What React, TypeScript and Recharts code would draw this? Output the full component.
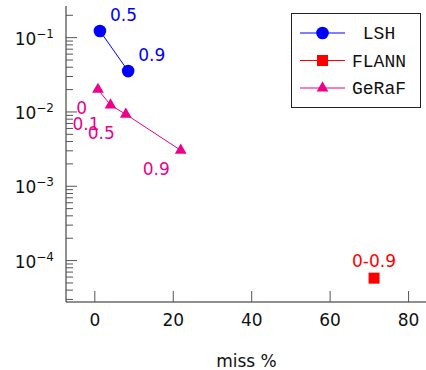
import React from "react";
import { ComposedChart, Scatter, XAxis, YAxis, Legend, Label } from "recharts";

// miss % vs. time
const lshMiss = [1.3, 8.5];
const lshTime = [0.123, 0.0355];
const lshLabels = ["0.5", "0.9"];

const flannMiss = [71.2];
const flannTime = [5.8e-5];
const flannLabels = ["0-0.9"];

const gerafMiss = [0.8, 4.0, 7.9, 21.9];
const gerafTime = [0.0201, 0.0124, 0.0093, 0.00305];
const gerafLabels = ["0", "0.1", "0.5", "0.9"];

const xTicks = [0, 20, 40, 60, 80];
const yMajor = [1e-4, 1e-3, 1e-2, 1e-1];
const yMajorExp = ["−4", "−3", "−2", "−1"];
const minorMult = [2, 3, 4, 5, 6, 7, 8, 9];

const X_DOMAIN: [number, number] = [-7.35, 84.7];
const Y_DOMAIN: [number, number] = [2.77e-5, 0.2667];

const yTicks = [
  ...yMajor,
  ...[1e-5, 1e-4, 1e-3, 1e-2, 1e-1].flatMap((d) => minorMult.map((m) => m * d)),
].filter((v) => v >= Y_DOMAIN[0] && v <= Y_DOMAIN[1]);

const zip = (xs: number[], ys: number[], ls: string[]) =>
  xs.map((x, i) => ({ miss: x, time: ys[i], label: ls[i] }));

const SANS = "'DejaVu Sans', sans-serif";
const MONO = "'Liberation Mono', monospace";
const TICK = "#555";
const FRAME = "#222";

type Kind = "circle" | "square" | "triangle";

const series = [
  { name: "LSH", color: "#0000ff", kind: "circle" as Kind, data: zip(lshMiss, lshTime, lshLabels), dx: 10, dy: -16, anchor: "start" },
  { name: "FLANN", color: "#ff0000", kind: "square" as Kind, data: zip(flannMiss, flannTime, flannLabels), dx: 0, dy: -17, anchor: "middle" },
  { name: "GeRaF", color: "#ec008c", kind: "triangle" as Kind, data: zip(gerafMiss, gerafTime, gerafLabels), dx: -11, dy: 19, anchor: "end" },
];

function marker(kind: Kind, cx: number, cy: number, color: string) {
  if (kind === "circle") return <circle cx={cx} cy={cy} r={6.3} fill={color} />;
  if (kind === "square") return <rect x={cx - 5.5} y={cy - 5.5} width={11} height={11} fill={color} />;
  const r = 6.8;
  const pts = `${cx},${cy - r} ${cx + r * 0.866},${cy + r / 2} ${cx - r * 0.866},${cy + r / 2}`;
  return <polygon points={pts} fill={color} />;
}

const isMajor = (v: number) => yMajor.findIndex((m) => Math.abs(Math.log10(m) - Math.log10(v)) < 1e-6);

const LeftTick = ({ x, y, payload }: any) => {
  const i = isMajor(payload.value);
  const len = i >= 0 ? 11 : 7;
  return (
    <g>
      <line x1={x} x2={x + len} y1={y} y2={y} stroke={TICK} />
      {i >= 0 && (
        <text x={x - 12} y={y + 7} textAnchor="end" fontFamily={SANS} fontSize={17} fill="#111">
          10<tspan dy={-7} fontSize={12}>{yMajorExp[i]}</tspan>
        </text>
      )}
    </g>
  );
};

const RightTick = ({ x, y, payload }: any) => {
  const len = isMajor(payload.value) >= 0 ? 11 : 7;
  return <line x1={x} x2={x - len} y1={y} y2={y} stroke={TICK} />;
};

const BottomTick = ({ x, y, payload }: any) => (
  <g>
    <line x1={x} x2={x} y1={y} y2={y - 11} stroke={TICK} />
    <text x={x} y={y + 24} textAnchor="middle" fontFamily={SANS} fontSize={17} fill="#111">
      {payload.value}
    </text>
  </g>
);

const TopTick = ({ x, y }: any) => <line x1={x} x2={x} y1={y} y2={y + 11} stroke={TICK} />;

const renderLegend = () => (
  <div style={{ width: 130, height: 95, border: `1px solid ${FRAME}`, background: "#fff", boxSizing: "border-box" }}>
    <svg width={128} height={93}>
      {series.map((s, i) => {
        const cy = 19 + i * 27.5;
        return (
          <g key={s.name}>
            <line x1={8} x2={53} y1={cy} y2={cy} stroke={s.color} />
            {marker(s.kind, 30.5, cy, s.color)}
            <text x={87} y={cy + 6} textAnchor="middle" fontFamily={MONO} fontSize={18} fill="#111">
              {s.name}
            </text>
          </g>
        );
      })}
    </svg>
  </div>
);

export default function App() {
  return (
    <div style={{ position: "absolute", left: 0, top: 0, width: 426, height: 370, overflow: "hidden", background: "#fff" }}>
      <ComposedChart width={440} height={370} margin={{ top: 6, right: 13, bottom: 0, left: 0 }}>
        <XAxis
          dataKey="miss"
          type="number"
          domain={X_DOMAIN}
          allowDataOverflow
          ticks={xTicks}
          interval={0}
          height={68}
          tickSize={0}
          tickMargin={0}
          tickLine={false}
          tick={BottomTick}
          axisLine={{ stroke: FRAME }}
        >
          <Label
            content={({ viewBox }: any) => (
              <text
                x={viewBox.x + viewBox.width / 2}
                y={viewBox.y + 65}
                textAnchor="middle"
                fontFamily={SANS}
                fontSize={17}
                fill="#111"
              >
                miss %
              </text>
            )}
          />
        </XAxis>
        <XAxis
          xAxisId="top"
          orientation="top"
          dataKey="miss"
          type="number"
          domain={X_DOMAIN}
          allowDataOverflow
          ticks={xTicks}
          interval={0}
          height={0}
          tickSize={0}
          tickMargin={0}
          tickLine={false}
          tick={TopTick}
          axisLine={{ stroke: FRAME }}
        />
        <YAxis
          dataKey="time"
          type="number"
          scale="log"
          domain={Y_DOMAIN}
          allowDataOverflow
          ticks={yTicks}
          interval={0}
          width={66}
          tickSize={0}
          tickMargin={0}
          tickLine={false}
          tick={LeftTick}
          axisLine={{ stroke: FRAME }}
        />
        <YAxis
          yAxisId="right"
          orientation="right"
          dataKey="time"
          type="number"
          scale="log"
          domain={Y_DOMAIN}
          allowDataOverflow
          ticks={yTicks}
          interval={0}
          width={0}
          tickSize={0}
          tickMargin={0}
          tickLine={false}
          tick={RightTick}
          axisLine={{ stroke: FRAME }}
        />
        {series.map((s) => (
          <Scatter
            key={s.name}
            name={s.name}
            data={s.data}
            fill={s.color}
            line={{ stroke: s.color, strokeWidth: 1 }}
            isAnimationActive={false}
            shape={(p: any) => (
              <g>
                {marker(s.kind, p.cx, p.cy, s.color)}
                <text
                  x={p.cx + s.dx}
                  y={p.cy + s.dy + 6}
                  textAnchor={s.anchor as any}
                  fontFamily={SANS}
                  fontSize={17}
                  fill={s.color}
                >
                  {p.payload.label}
                </text>
              </g>
            )}
          />
        ))}
        <Legend
          layout="vertical"
          align="center"
          verticalAlign="middle"
          content={renderLegend}
          wrapperStyle={{ left: 291, top: 13, width: 130, height: 95 }}
        />
      </ComposedChart>
    </div>
  );
}
